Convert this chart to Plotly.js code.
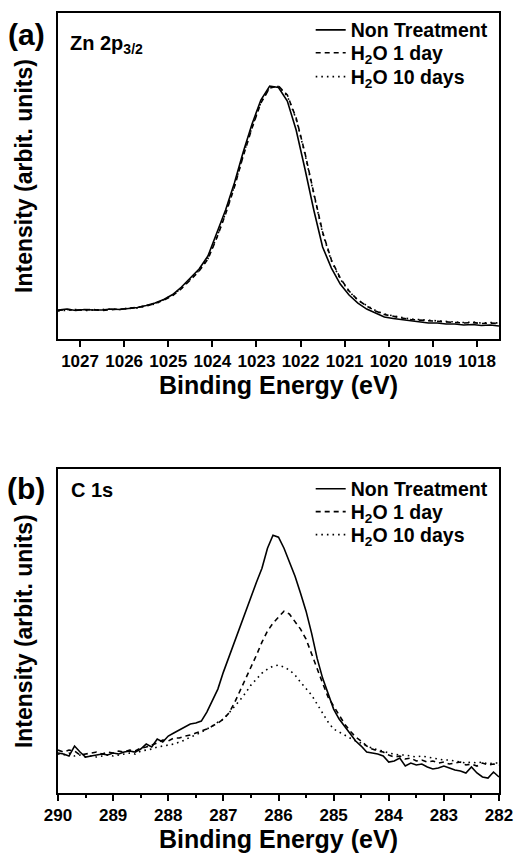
<!DOCTYPE html>
<html>
<head>
<meta charset="utf-8">
<script src="https://cdn.plot.ly/plotly-3.0.1.min.js"></script>
<style>html,body{margin:0;padding:0;background:#fff;}#plot{width:515px;height:855px;}</style>
</head>
<body>
<div id="plot"></div>
<script>
// ---------- Panel (a): Zn 2p3/2 ----------
const znStart = 1027.5, znStep = -0.2;
const znNonTreatment = [29,30,28.5,29.5,29,29,30,29.5,30.5,31.5,33.5,36,39.5,44.5,52,61,70,83,105,129,156,187,215,239,253,251.5,238,209,170,129,92,71,55,44,36,30,26,22,20.5,19.5,18,17.5,16,16,15,15,14,14.5,13.5,14,13];
const znH2O1day = [28.5,29.5,29,29,29.5,28.5,29.5,30,30.5,31.5,33,35.5,39,43.5,50.5,59,68,80,101,125,152,183,211,236,251,253,244,221,186,146,107,79,61,48,39,33,28,24.5,22.5,21,19.5,19,18,17.5,17,16.5,16,16.5,15.5,16,15.5];
const znH2O10days = [28,29,29.5,28.5,29,29,30,29.5,31,31,33.5,35,39.5,44,51,59.5,68.5,80.5,102,126,153,184,212,236.5,251.5,252.5,243,220,185,145,106,78,60,47.5,39,33.5,28.5,25,23,21.5,20,19.5,18.5,18,17.5,17,16.5,17,16,16.5,16];
const znEnergy = znNonTreatment.map((_, i) => +(znStart + i * znStep).toFixed(2));

// ---------- Panel (b): C 1s ----------
const cStart = 290.0, cStep = -0.1;
const cNonTreatment = [40,39,37,47,41,36,37,38,39,38,40,39,41,42,41,44,49,46,54,51,57,60,63,66,69,70,72,81,93,104,121,136,151,167,183,197,211,225,245,258,256,245,231,217,200,182,160,135,115,99,84,74,67,60,52,47,41,40,39,37,31,32,35,27,30,28,29,26,24,25,27,25,23,22,20,26,20,16,15,21,16];
const cH2O1day = [43,41,43,42,38,39,40,41,39,41,40,42,41,43,42,45,46,48,50,53,52,55,55,57,58,60,62,64,67,70,74,80,90,102,113,125,138,151,162,170,176,182,179,172,164,154,140,124,110,96,87,77,69,62,56,52,47,44,42,41,38,36,37,34,35,32,33,31,32,30,31,29,30,31,28,29,27,30,28,29,28];
const cH2O10days = [39,38,40,37,38,36,37,36,37,38,37,38,39,40,39,42,43,44,46,47,48,49,51,53,56,58,61,64,67,71,74,80,86,93,100,108,114,120,124,127,128,126,123,118,111,104,98,89,80,71,64,61,58,55,52,50,47,45,43,42,40,39,38,38,37,36,37,36,35,34,33,33,32,31,30,31,30,31,29,30,30];
const cEnergy = cNonTreatment.map((_, i) => +(cStart + i * cStep).toFixed(2));

const seriesNames = ['Non Treatment', 'H<sub>2</sub>O 1 day', 'H<sub>2</sub>O 10 days'];
const dashes = ['solid', '5px,4px', '1.6px,4px'];
const panelLabels = ['(a)', '(b)'];
const peakLabels = ['Zn 2p<sub>3/2</sub>', 'C 1s'];
const xTitle = 'Binding Energy (eV)';
const yTitle = 'Intensity (arbit. units)';

const FONT = 'Liberation Sans, Arial, sans-serif';

// each legend entry gets its own legend box so rows can be spaced like the original
const legendIds = [['legend', 'legend2', 'legend3'], ['legend4', 'legend5', 'legend6']];
const legendRowY = [[0.978, 0.9487, 0.918], [0.3897, 0.3603, 0.3308]];

const traces = [];
[znNonTreatment, znH2O1day, znH2O10days].forEach((y, i) => {
  traces.push({x: znEnergy, y: y, type: 'scatter', mode: 'lines', name: seriesNames[i],
    xaxis: 'x', yaxis: 'y', legend: legendIds[0][i],
    line: {color: '#000', width: 1.6, dash: dashes[i]}});
});
[cNonTreatment, cH2O1day, cH2O10days].forEach((y, i) => {
  traces.push({x: cEnergy, y: y, type: 'scatter', mode: 'lines', name: seriesNames[i],
    xaxis: 'x2', yaxis: 'y2', legend: legendIds[1][i],
    line: {color: '#000', width: 1.6, dash: dashes[i]}});
});

const axisCommon = {
  showline: true, linecolor: '#000', linewidth: 2, mirror: true,
  showgrid: false, zeroline: false, automargin: false
};
const xCommon = Object.assign({}, axisCommon, {
  ticks: 'outside', ticklen: 6, tickwidth: 2, tickcolor: '#000', dtick: 1,
  tickfont: {family: FONT, size: 17, color: '#000', weight: 'bold'},
  title: {text: xTitle, font: {family: FONT, size: 25, color: '#000', weight: 'bold'}, standoff: 6}
});
const yCommon = Object.assign({}, axisCommon, {
  ticks: '', showticklabels: false,
  title: {text: yTitle, font: {family: FONT, size: 23, color: '#000', weight: 'bold'}, standoff: 17}
});
const legendCommon = {
  xanchor: 'left', yanchor: 'middle', x: 0.573, bgcolor: 'rgba(0,0,0,0)', borderwidth: 0,
  font: {family: FONT, size: 19.5, color: '#000', weight: 'bold'}, tracegroupgap: 0
};

const layout = {
  width: 515, height: 855,
  margin: {l: 58, r: 16, t: 13, b: 62, autoexpand: false},
  paper_bgcolor: '#fff', plot_bgcolor: '#fff',
  showlegend: true,
  xaxis: Object.assign({}, xCommon, {anchor: 'y', range: [1027.5, 1017.5]}),
  yaxis: Object.assign({}, yCommon, {domain: [0.582, 1], range: [0, 326]}),
  xaxis2: Object.assign({}, xCommon, {anchor: 'y2', range: [290, 282],
    minor: {dtick: 0.5, ticks: 'outside', ticklen: 3, tickwidth: 2, tickcolor: '#000'}}),
  yaxis2: Object.assign({}, yCommon, {domain: [0, 0.415], range: [0, 324]}),
  annotations: [
    {text: panelLabels[0], xref: 'paper', yref: 'paper', x: -0.072, y: 0.972, xanchor: 'center', yanchor: 'middle', showarrow: false,
     font: {family: FONT, size: 30, color: '#000', weight: 'bold'}},
    {text: panelLabels[1], xref: 'paper', yref: 'paper', x: -0.072, y: 0.391, xanchor: 'center', yanchor: 'middle', showarrow: false,
     font: {family: FONT, size: 30, color: '#000', weight: 'bold'}},
    {text: peakLabels[0], xref: 'paper', yref: 'paper', x: 0.022, y: 0.959, xanchor: 'left', yanchor: 'middle', showarrow: false,
     font: {family: FONT, size: 20, color: '#000', weight: 'bold'}},
    {text: peakLabels[1], xref: 'paper', yref: 'paper', x: 0.025, y: 0.388, xanchor: 'left', yanchor: 'middle', showarrow: false,
     font: {family: FONT, size: 20, color: '#000', weight: 'bold'}}
  ]
};
legendIds.forEach((row, p) => row.forEach((id, i) => {
  layout[id] = Object.assign({}, legendCommon, {y: legendRowY[p][i]});
}));

Plotly.newPlot('plot', traces, layout, {displayModeBar: false, staticPlot: true});
</script>
</body>
</html>
